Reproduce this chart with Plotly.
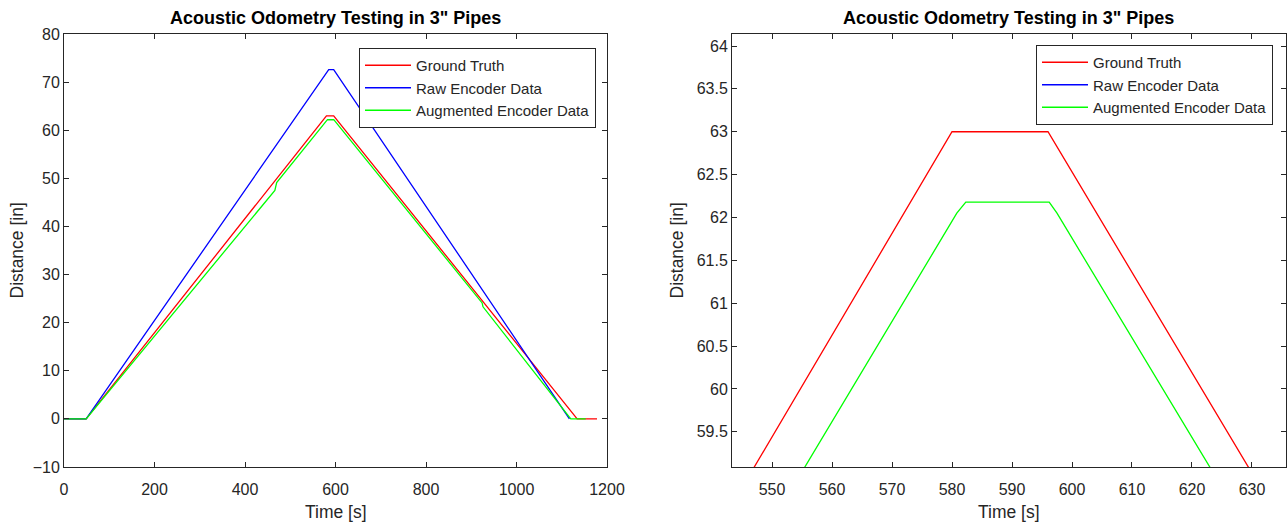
import plotly.graph_objects as go

# ---- data ----
gt_time = [0, 49, 580, 596, 1134, 1178]
gt_dist = [0, 0, 63.0, 63.0, 0, 0]

raw_time = [0, 49, 585, 596, 1117]
raw_dist = [0, 0, 72.6, 72.6, 0]

aug_time = [0, 49, 466, 470, 580.8, 582.3, 596.2, 597.5, 924, 926, 1120, 1153]
aug_dist = [0, 0, 47.5, 49.1, 62.05, 62.18, 62.18, 62.05, 24.1, 23.3, 0, 0]

names = ["Ground Truth", "Raw Encoder Data", "Augmented Encoder Data"]
colors = ["#ff0000", "#0000ff", "#00ff00"]
title_text = 'Acoustic Odometry Testing in 3" Pipes'
x_label = "Time [s]"
y_label = "Distance [in]"

left_xticks = [0, 200, 400, 600, 800, 1000, 1200]
left_yticks = [-10, 0, 10, 20, 30, 40, 50, 60, 70, 80]
right_xticks = [550, 560, 570, 580, 590, 600, 610, 620, 630]
right_yticks = [59.5, 60, 60.5, 61, 61.5, 62, 62.5, 63, 63.5, 64]

W, H = 1287, 525
FONT = "Liberation Sans, Arial, Helvetica, sans-serif"
AX = "#262626"

fig = go.Figure()
series = [(gt_time, gt_dist), (raw_time, raw_dist), (aug_time, aug_dist)]
for (t, d), n, c in zip(series, names, colors):
    fig.add_trace(go.Scatter(x=t, y=d, mode="lines", name=n,
                             line=dict(color=c, width=1.3),
                             xaxis="x", yaxis="y", legend="legend"))
for (t, d), n, c in zip(series, names, colors):
    fig.add_trace(go.Scatter(x=t, y=d, mode="lines", name=n,
                             line=dict(color=c, width=1.3),
                             xaxis="x2", yaxis="y2", legend="legend2"))

top_px, bot_px = 34, 467
ydom = [1 - bot_px / H, 1 - top_px / H]
lx0, lx1 = 64, 607
rx0, rx1 = 732, 1286

def axis_common():
    return dict(showline=True, linecolor=AX, linewidth=1, mirror="ticks",
                ticks="inside", ticklen=5, tickcolor=AX, showgrid=False,
                zeroline=False, automargin=False,
                tickfont=dict(family=FONT, size=16, color=AX))

def px_x(p):
    return p / W

def px_y(p):
    return 1 - p / H

anns = []
for a, b in [(lx0, lx1), (rx0, rx1)]:
    anns.append(dict(text="<b>" + title_text + "</b>", x=px_x((a + b) / 2), y=px_y(18),
                     xref="paper", yref="paper", showarrow=False,
                     xanchor="center", yanchor="middle",
                     font=dict(family=FONT, size=18, color="black")))
    anns.append(dict(text=x_label, x=px_x((a + b) / 2), y=px_y(512),
                     xref="paper", yref="paper", showarrow=False,
                     xanchor="center", yanchor="middle",
                     font=dict(family=FONT, size=17.5, color=AX)))
for xc in [17, 677]:
    anns.append(dict(text=y_label, x=px_x(xc), y=px_y((top_px + bot_px) / 2),
                     xref="paper", yref="paper", showarrow=False, textangle=-90,
                     xanchor="center", yanchor="middle",
                     font=dict(family=FONT, size=17.5, color=AX)))

fig.update_layout(
    width=W, height=H,
    margin=dict(l=0, r=0, t=0, b=0),
    paper_bgcolor="white", plot_bgcolor="white",
    xaxis=dict(domain=[lx0 / W, lx1 / W], range=[0, 1200], tickvals=left_xticks,
               anchor="y", ticklabelstandoff=8, **axis_common()),
    yaxis=dict(domain=ydom, range=[-10, 80], tickvals=left_yticks,
               anchor="x", **axis_common()),
    xaxis2=dict(domain=[rx0 / W, rx1 / W], range=[543.33, 635.67], tickvals=right_xticks,
                anchor="y2", ticklabelstandoff=8, **axis_common()),
    yaxis2=dict(domain=ydom, range=[59.09, 64.14], tickvals=right_yticks,
                anchor="x2", **axis_common()),
    legend=dict(x=596 / W, y=1 - 48 / H, xanchor="right", yanchor="top",
                bgcolor="white", bordercolor=AX, borderwidth=1,
                font=dict(family=FONT, size=15, color=AX), tracegroupgap=0,
                itemwidth=46),
    legend2=dict(x=1273 / W, y=1 - 45 / H, xanchor="right", yanchor="top",
                 bgcolor="white", bordercolor=AX, borderwidth=1,
                 font=dict(family=FONT, size=15, color=AX), tracegroupgap=0,
                 itemwidth=46),
    annotations=anns,
    showlegend=True,
)

fig.write_html("out.html", config={"displayModeBar": False},
               post_script="document.body.style.margin='0';document.body.style.overflow='hidden';")
